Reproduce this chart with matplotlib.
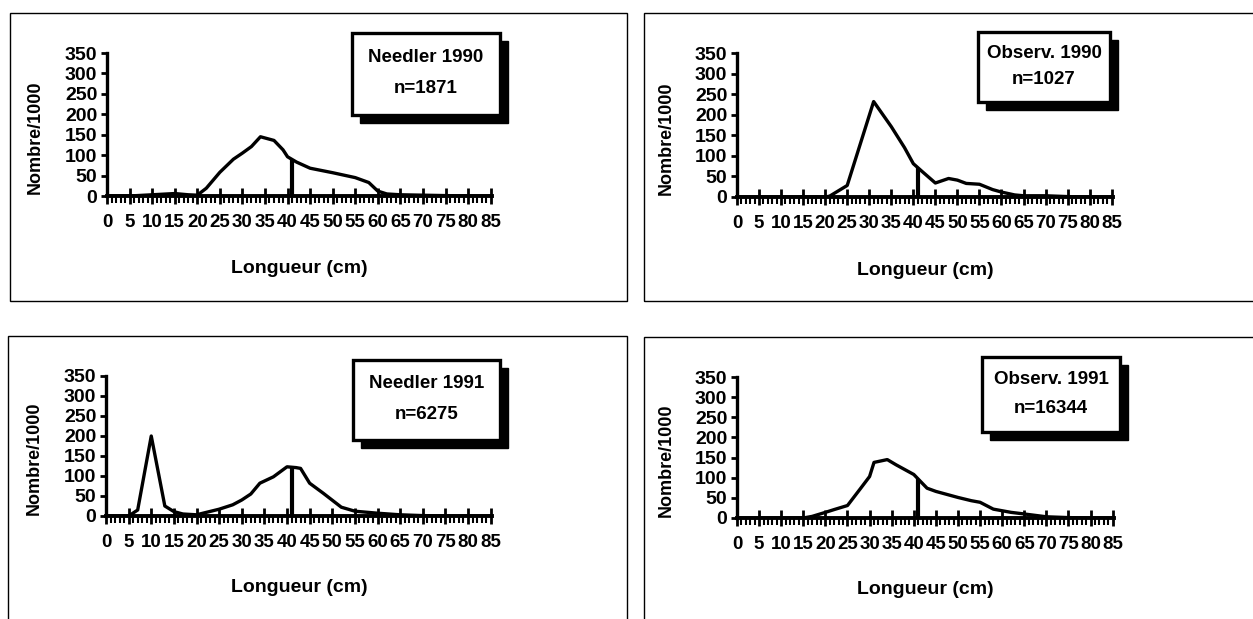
import numpy as np
import matplotlib
matplotlib.use("Agg")
import matplotlib.pyplot as plt
from matplotlib.patches import Rectangle
from matplotlib.ticker import MultipleLocator

# longueur (cm) / nombre par 1000
len_n90 = [0, 5, 10, 15, 18, 20, 22, 25, 28, 30, 32, 34, 36, 37, 39, 40, 42, 45, 50, 55, 58, 60, 62, 65, 70, 75, 80, 85]
val_n90 = [0, 0, 3, 6, 3, 2, 19, 58, 90, 105, 121, 145, 139, 136, 113, 96, 83, 68, 57, 45, 33, 12, 5, 3, 2, 1, 0, 0]

len_o90 = [0, 5, 10, 15, 20, 21, 25, 31, 35, 38, 40, 42, 45, 48, 50, 52, 55, 58, 60, 63, 65, 70, 75, 80, 85]
val_o90 = [0, 0, 0, 0, 0, 2, 28, 232, 171, 120, 81, 62, 34, 45, 41, 33, 31, 18, 12, 5, 3, 3, 1, 0, 0]

len_n91 = [0, 5, 7, 10, 13, 15, 17, 20, 25, 28, 30, 32, 34, 37, 40, 42, 43, 45, 48, 52, 55, 58, 60, 65, 70, 75, 80, 85]
val_n91 = [0, 0, 15, 200, 25, 11, 5, 3, 17, 28, 40, 55, 82, 98, 123, 121, 119, 82, 57, 22, 12, 9, 7, 3, 1, 0, 0, 0]

len_o91 = [0, 5, 10, 15, 17, 20, 22, 25, 28, 30, 31, 34, 36, 38, 40, 43, 45, 50, 53, 55, 58, 60, 62, 65, 70, 75, 80, 85]
val_o91 = [0, 0, 0, 0, 4, 14, 21, 31, 74, 103, 138, 145, 132, 120, 108, 74, 66, 51, 43, 39, 22, 18, 14, 10, 3, 1, 0, 0]

titres = ["Needler 1990", "Observ. 1990", "Needler 1991", "Observ. 1991"]
effectifs = ["n=1871", "n=1027", "n=6275", "n=16344"]
taille_min = 41

fam = ["Liberation Sans Narrow", "Liberation Sans", "DejaVu Sans"]

W, H = 1253, 619
fig = plt.figure(figsize=(W / 100, H / 100), dpi=100)


def px(x0, y0, x1, y1):
    # pixel box (top-left origin) -> figure fraction rect
    return [x0 / W, 1 - y1 / H, (x1 - x0) / W, (y1 - y0) / H]


# panel frames
for (x0, y0, x1, y1) in [(10, 13, 627, 301), (644, 13, 1260, 301),
                         (8, 336, 627, 625), (644, 337, 1260, 625)]:
    r = px(x0, y0, x1, y1)
    fig.add_artist(Rectangle((r[0], r[1]), r[2], r[3], transform=fig.transFigure,
                             fill=False, lw=1.0, ec="black"))

axes_px = [(107, 53, 492, 196), (737, 53, 1113, 197),
           (106, 376, 492, 516), (737, 377, 1114, 518)]
boxes_px = [(352, 33, 500, 115), (978, 32, 1110, 102),
            (353, 360, 500, 440), (982, 357, 1120, 432)]
data = [(len_n90, val_n90), (len_o90, val_o90), (len_n91, val_n91), (len_o91, val_o91)]

for i in range(4):
    ax = fig.add_axes(px(*axes_px[i]))
    x, y = data[i]
    ax.plot(x, y, color="black", lw=2.4, solid_joinstyle="round", zorder=3)
    ax.vlines(taille_min, 0, np.interp(taille_min, x, y), color="black", lw=3.0, zorder=3)

    ax.set_xlim(0, 85.3)
    ax.set_ylim(0, 350)
    for s in ["top", "right"]:
        ax.spines[s].set_visible(False)
    ax.spines["left"].set_linewidth(2.4)
    ax.spines["bottom"].set_linewidth(2.8)

    ax.set_xticks(np.arange(0, 90, 5))
    ax.xaxis.set_minor_locator(MultipleLocator(1))
    ax.set_yticks(np.arange(0, 400, 50))
    ax.tick_params(axis="x", which="major", direction="inout", length=12, width=2, pad=7)
    ax.tick_params(axis="x", which="minor", direction="out", length=5, width=1.5)
    ax.tick_params(axis="y", which="major", direction="out", length=4, width=2, pad=3)
    for lab in ax.get_xticklabels():
        lab.set_fontfamily(fam)
        lab.set_fontweight("bold")
        lab.set_fontsize(13.5)
    for lab in ax.get_yticklabels():
        lab.set_fontfamily(fam)
        lab.set_fontweight("bold")
        lab.set_fontsize(14)

    ax.set_ylabel("Nombre/1000", family=fam, fontweight="bold", fontsize=13)
    ax.yaxis.set_label_coords(-0.165, 0.41)
    ax.set_xlabel("Longueur (cm)", family=fam, fontweight="bold", fontsize=14)
    ax.xaxis.set_label_coords(0.5, -0.45)
    ax.patch.set_alpha(0)

    # legend box with drop shadow
    bx0, by0, bx1, by1 = boxes_px[i]
    sh = px(bx0 + 8, by0 + 8, bx1 + 8, by1 + 8)
    fig.add_artist(Rectangle((sh[0], sh[1]), sh[2], sh[3], transform=fig.transFigure,
                             fc="black", ec="black", lw=1, zorder=5))
    bb = px(bx0, by0, bx1, by1)
    fig.add_artist(Rectangle((bb[0], bb[1]), bb[2], bb[3], transform=fig.transFigure,
                             fc="white", ec="black", lw=2.4, zorder=6))
    cx = bb[0] + bb[2] / 2
    fig.text(cx, bb[1] + bb[3] * 0.70, titres[i], ha="center", va="center",
             family=fam, fontweight="bold", fontsize=13.5, zorder=7)
    fig.text(cx, bb[1] + bb[3] * 0.32, effectifs[i], ha="center", va="center",
             family=fam, fontweight="bold", fontsize=13.5, zorder=7)

fig.savefig("out.png", dpi=100)
